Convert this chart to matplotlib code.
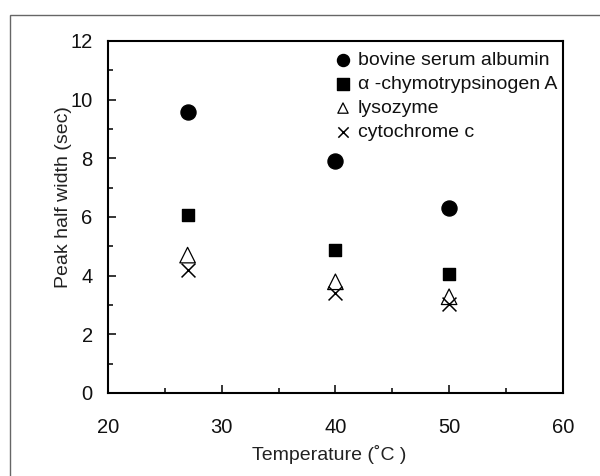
import matplotlib
matplotlib.use("Agg")
import matplotlib.pyplot as plt
from matplotlib.patches import Rectangle
from matplotlib.ticker import MultipleLocator

plt.rcParams['font.family'] = ['Liberation Sans', 'DejaVu Sans']

temps = [27, 40, 50]
bsa = [9.57, 7.92, 6.30]
chymo = [6.06, 4.89, 4.07]
lysozyme = [4.70, 3.79, 3.28]
cytochrome = [4.18, 3.41, 3.02]

labels = ["bovine serum albumin", "\u03b1 -chymotrypsinogen A", "lysozyme", "cytochrome c"]

fig = plt.figure(figsize=(6.0, 4.76), dpi=100)
# outer frame of the original figure
fig.patches.append(Rectangle((10 / 600, -0.1), 1.0, 0.1 + 461 / 476, transform=fig.transFigure,
                             fill=False, edgecolor='#666666', linewidth=1.0))

ax = fig.add_axes([0.18, 0.1744, 0.758, 0.7396])

ax.scatter(temps, bsa, marker='o', s=117, color='black', label=labels[0])
ax.scatter(temps, chymo, marker='s', s=75, color='black', label=labels[1])
ax.scatter(temps, lysozyme, marker='^', s=125, facecolors='none', edgecolors='black',
           linewidths=0.9, label=labels[2])
ax.scatter(temps, cytochrome, marker='x', s=100, color='black', linewidths=1.1, label=labels[3])

ax.set_xlim(20, 60)
ax.set_ylim(0, 12)
ax.xaxis.set_major_locator(MultipleLocator(10))
ax.xaxis.set_minor_locator(MultipleLocator(5))
ax.yaxis.set_major_locator(MultipleLocator(2))
ax.yaxis.set_minor_locator(MultipleLocator(1))
ax.tick_params(which='both', direction='in', top=False, right=False, labelsize=14.5,
               labelcolor='#111111')
ax.tick_params(axis='x', which='both', pad=18)
ax.tick_params(axis='y', which='both', pad=11)
ax.tick_params(which='major', length=5.5, width=1.1)
ax.tick_params(which='minor', length=3.5, width=1.1)
for sp in ax.spines.values():
    sp.set_linewidth(1.5)

ax.set_xlabel("Temperature (\u02daC )", fontsize=14, color='#222222')
ax.set_ylabel("Peak half width (sec)", fontsize=14, color='#222222')
ax.xaxis.set_label_coords(0.486, -0.148)
ax.yaxis.set_label_coords(-0.079, 0.556)

leg = ax.legend(loc='upper right', bbox_to_anchor=(0.988, 0.97), frameon=False, fontsize=14,
                handletextpad=0.37, handlelength=0.8, labelspacing=0.33,
                borderaxespad=0, borderpad=0)
for h, s in zip(leg.legend_handles, [75, 63, 55, 55]):
    h.set_sizes([s])
for t in leg.get_texts():
    t.set_color('#111111')

fig.savefig("out.png", dpi=100)
